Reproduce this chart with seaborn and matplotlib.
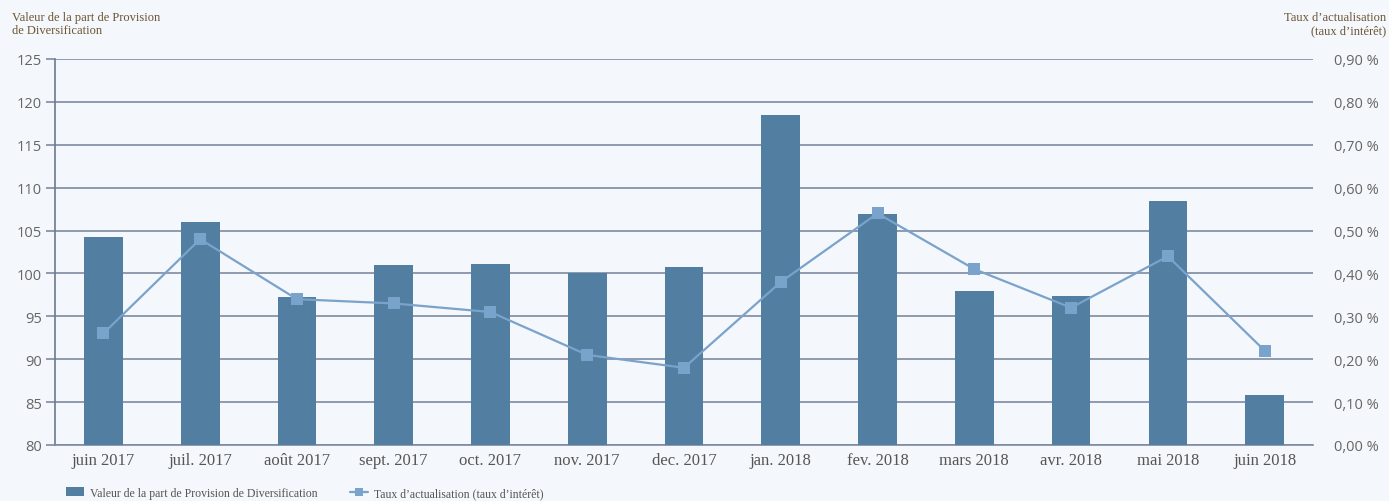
import matplotlib
matplotlib.use("Agg")
import matplotlib.pyplot as plt
import seaborn as sns
import pandas as pd
from matplotlib.patches import Patch
from matplotlib.lines import Line2D
from matplotlib.ticker import FixedLocator, FuncFormatter

# Data
mois = ["juin 2017", "juil. 2017", "août 2017", "sept. 2017", "oct. 2017",
        "nov. 2017", "dec. 2017", "jan. 2018", "fev. 2018", "mars 2018",
        "avr. 2018", "mai 2018", "juin 2018"]
valeur_part = [104.3, 106.0, 97.3, 101.0, 101.1, 100.1, 100.7,
               118.5, 106.9, 98.0, 97.4, 108.5, 85.8]
taux = [0.26, 0.48, 0.34, 0.33, 0.31, 0.21, 0.18,
        0.38, 0.54, 0.41, 0.32, 0.44, 0.22]

df = pd.DataFrame({"mois": mois, "valeur": valeur_part, "taux": taux})

bar_color = "#517ea1"
line_color = "#7aa3cc"
grid_color = "#7f8aa3"
bg = "#f4f7fb"
title_color = "#6b5533"
tick_color = "#666666"

sns.set_style("white")
plt.rcParams["font.family"] = ["Liberation Serif", "DejaVu Serif"]

fig = plt.figure(figsize=(13.89, 5.02), dpi=100, facecolor=bg)
ax = fig.add_axes([0.0396, 0.1116, 0.9057, 0.7689])
ax.set_facecolor(bg)

sns.barplot(data=df, x="mois", y="valeur", color=bar_color, width=0.4,
            saturation=1, linewidth=0, edgecolor="none", ax=ax, zorder=3)

ax.set_ylim(80, 125)
ax.set_xlim(-0.5, len(mois) - 0.5)
ax.set_yticks(range(80, 126, 5))
ax.yaxis.grid(True, color=grid_color, linewidth=1.2, zorder=0)
ax.set_axisbelow(True)
ax.set_xlabel("")
ax.set_ylabel("")

for s in ["top", "right"]:
    ax.spines[s].set_visible(False)
ax.spines["left"].set_color("#6e7a92")
ax.spines["left"].set_linewidth(1.2)
ax.spines["bottom"].set_color(grid_color)
ax.spines["bottom"].set_linewidth(1.2)

ax.tick_params(axis="y", length=6.5, width=1.2, color=grid_color, pad=3,
               labelsize=10.5, labelcolor=tick_color)
for lbl in ax.get_yticklabels():
    lbl.set_family(["Open Sans", "DejaVu Sans"])

ax.tick_params(axis="x", which="major", length=0, pad=5, labelsize=12,
               labelcolor="#555555")
ax.xaxis.set_minor_locator(FixedLocator([i - 0.5 for i in range(len(mois) + 1)]))
ax.tick_params(axis="x", which="minor", length=6.5, width=1.2, color="#6e7a92")

# second axis: taux d'actualisation
ax2 = ax.twinx()
sns.lineplot(data=df, x="mois", y="taux", ax=ax2, color=line_color,
             linewidth=1.6, marker="s", markersize=9, markeredgewidth=0,
             zorder=4)
ax2.set_ylim(0, 0.9)
ax2.set_yticks([i / 10 for i in range(10)])
ax2.yaxis.set_major_formatter(FuncFormatter(lambda v, p: f"{v:.2f} %".replace(".", ",")))
ax2.set_xlabel("")
ax2.set_ylabel("")
for s in ax2.spines.values():
    s.set_visible(False)
ax2.tick_params(axis="y", length=0, pad=15, labelsize=10.5, labelcolor=tick_color)
for lbl in ax2.get_yticklabels():
    lbl.set_family(["Open Sans", "DejaVu Sans"])

# axis titles
fig.text(0.0086, 0.977, "Valeur de la part de Provision\nde Diversification",
         ha="left", va="top", fontsize=9, color=title_color, linespacing=1.2)
fig.text(0.998, 0.977, "Taux d\u2019actualisation\n(taux d\u2019intérêt)",
         ha="right", va="top", fontsize=9, color=title_color, linespacing=1.2,
         multialignment="right")

# legend
handles = [
    Patch(facecolor=bar_color, edgecolor="none"),
    Line2D([0], [0], color=line_color, linewidth=1.6, marker="s",
           markersize=6, markeredgewidth=0),
]
labels = ["Valeur de la part de Provision de Diversification",
          "Taux d\u2019actualisation (taux d\u2019intérêt)"]
fig.legend(handles, labels, loc="center left", bbox_to_anchor=(0.04, 0.016),
           ncol=2, frameon=False, fontsize=8.5, handlelength=1.5,
           handleheight=0.8, columnspacing=2.8, handletextpad=0.5,
           labelcolor="#555555")

fig.savefig("out.png", dpi=100, facecolor=bg)
